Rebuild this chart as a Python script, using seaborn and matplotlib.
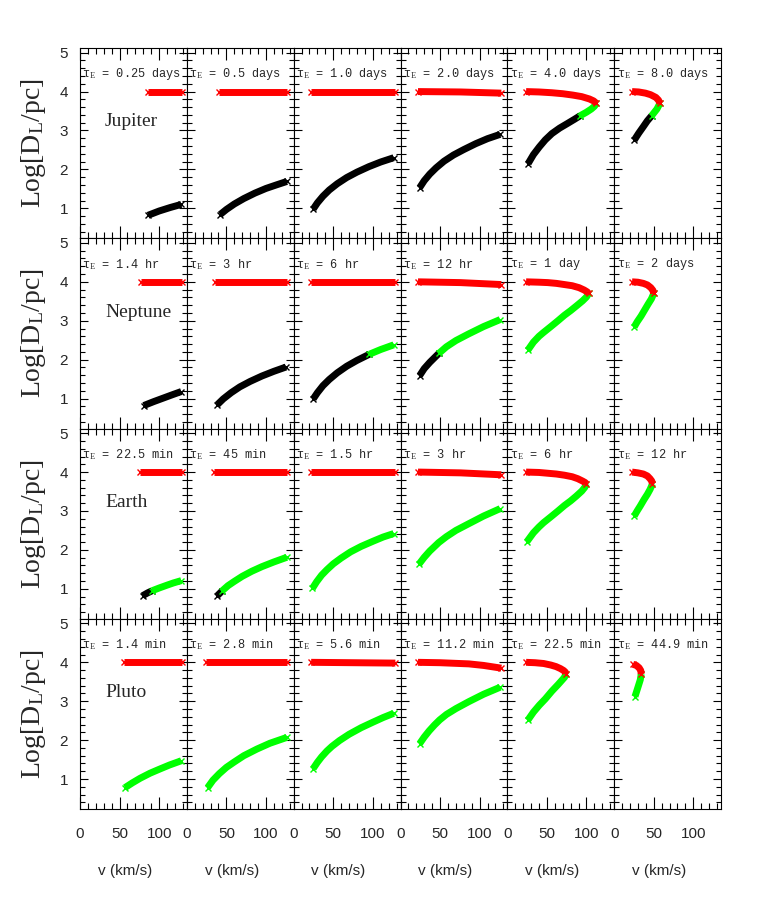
import matplotlib
matplotlib.use("Agg")
import matplotlib.pyplot as plt
import seaborn as sns
import pandas as pd
from matplotlib.ticker import MultipleLocator, FixedLocator

# ---------------- data ----------------
PLANETS = ["Jupiter", "Neptune", "Earth", "Pluto"]

TAU_JUP = ["0.25 days", "0.5 days", "1.0 days", "2.0 days", "4.0 days", "8.0 days"]
TAU_NEP = ["1.4 hr", "3 hr", "6 hr", "12 hr", "1 day", "2 days"]
TAU_EAR = ["22.5 min", "45 min", "1.5 hr", "3 hr", "6 hr", "12 hr"]
TAU_PLU = ["1.4 min", "2.8 min", "5.6 min", "11.2 min", "22.5 min", "44.9 min"]

X_TICKS = [0, 50, 100]
Y_TICKS = [1, 2, 3, 4, 5]

# ---- Jupiter row ----
JUP_RED_V = [[86, 129.5], [41, 126.5], [22, 128.5], [22.1, 75.8, 127.4],
             [23.7, 40, 56.3, 70, 82.7, 94, 103.7, 109, 112.5],
             [22.6, 31, 39.5, 46, 52.7, 56, 57.9]]
JUP_RED_D = [[4.0, 4.0], [4.0, 4.0], [4.0, 4.0], [4.0, 3.99, 3.96],
             [4.0, 3.99, 3.97, 3.945, 3.91, 3.87, 3.81, 3.76, 3.70],
             [4.0, 3.99, 3.96, 3.92, 3.85, 3.78, 3.70]]
JUP_BLK_V = [[86, 100, 114, 128],
             [42.1, 50, 60, 72, 86, 100, 113, 126.4],
             [24.7, 30, 37, 45, 55, 67, 80, 95, 110, 126.4],
             [24.2, 30, 37, 45, 55, 67, 80, 95, 110, 125.9],
             [26.3, 33, 40.5, 48, 56.3, 66, 76, 85, 92.1],
             [25.3, 31, 36.9, 42, 47.4]]
JUP_BLK_D = [[0.82, 0.93, 1.02, 1.10],
             [0.84, 0.97, 1.11, 1.25, 1.39, 1.51, 1.60, 1.69],
             [0.98, 1.14, 1.31, 1.47, 1.63, 1.79, 1.93, 2.07, 2.19, 2.30],
             [1.53, 1.71, 1.88, 2.04, 2.21, 2.37, 2.51, 2.66, 2.79, 2.90],
             [2.15, 2.38, 2.58, 2.76, 2.92, 3.06, 3.18, 3.29, 3.38],
             [2.75, 2.93, 3.10, 3.25, 3.38]]
JUP_GRN_V = [[], [], [], [], [92.1, 100, 106, 110, 112.5], [47.4, 54, 57.9]]
JUP_GRN_D = [[], [], [], [], [3.38, 3.47, 3.55, 3.62, 3.70], [3.38, 3.55, 3.70]]

# ---- Neptune row ----
NEP_RED_V = [[77.5, 129.4], [35.8, 126.4], [22.1, 128.5], [22.1, 75.8, 127.4],
             [23.7, 40, 51.1, 62, 72.1, 82, 90.6, 97, 101, 102.7],
             [22.6, 30, 36.9, 42, 46.3, 49, 50.0]]
NEP_RED_D = [[4.0, 4.0], [4.0, 4.0], [4.0, 4.0], [4.0, 3.98, 3.93],
             [4.0, 3.99, 3.98, 3.96, 3.93, 3.90, 3.85, 3.79, 3.74, 3.70],
             [4.0, 3.99, 3.96, 3.92, 3.85, 3.78, 3.70]]
NEP_BLK_V = [[80.6, 93, 105, 117, 128],
             [38.4, 46, 56, 67, 80, 95, 110, 125.3],
             [24.7, 30, 37, 45, 55, 67, 80, 95.8],
             [24.2, 30, 37, 48.4], [], []]
NEP_BLK_D = [[0.82, 0.92, 1.01, 1.10, 1.18],
             [0.84, 0.99, 1.15, 1.30, 1.44, 1.58, 1.70, 1.81],
             [0.99, 1.15, 1.33, 1.49, 1.66, 1.83, 1.98, 2.14],
             [1.59, 1.77, 1.93, 2.16], [], []]
NEP_GRN_V = [[], [],
             [95.8, 110, 126.4],
             [48.4, 58, 70, 86, 105, 125.9],
             [25.8, 33, 40, 45.8, 55, 64, 72.1, 80, 87.9, 95, 100, 102.7],
             [25.3, 29, 34, 39.5, 43, 47, 50.0]]
NEP_GRN_D = [[], [],
             [2.14, 2.26, 2.38],
             [2.16, 2.33, 2.49, 2.66, 2.85, 3.03],
             [2.24, 2.45, 2.60, 2.70, 2.85, 3.00, 3.14, 3.26, 3.39, 3.51, 3.61, 3.70],
             [2.84, 2.97, 3.12, 3.31, 3.43, 3.56, 3.70]]

# ---- Earth row ----
EAR_RED_V = [[75.3, 129.4], [34.8, 126.4], [22.1, 128.5], [22.1, 75.8, 127.4],
             [23.7, 40, 51.1, 62, 72.1, 82, 89, 95, 98.5, 99.5],
             [22.6, 30, 36.9, 42, 45.3, 47.5, 48.4]]
EAR_RED_D = [[4.0, 4.0], [4.0, 4.0], [4.0, 4.0], [4.0, 3.98, 3.93],
             [4.0, 3.99, 3.97, 3.95, 3.92, 3.88, 3.83, 3.77, 3.73, 3.70],
             [4.0, 3.98, 3.95, 3.90, 3.83, 3.77, 3.70]]
EAR_BLK_V = [[79, 85, 91.1], [38.4, 44.8], [], [], [], []]
EAR_BLK_D = [[0.82, 0.89, 0.95], [0.82, 0.95], [], [], [], []]
EAR_GRN_V = [[91.1, 100, 109.5, 118, 128],
             [44.8, 52, 60, 70, 82, 95, 110, 126.4],
             [23.7, 29, 35.3, 42, 50, 60, 72, 85.3, 100, 113, 126.4],
             [23.2, 30, 37, 48.4, 58, 70, 86, 105, 125.9],
             [24.7, 33, 40, 45.8, 55, 64, 72.1, 80, 87, 94, 98, 99.5],
             [25.3, 29, 33, 37.9, 42, 45.5, 48.4]]
EAR_GRN_D = [[0.95, 1.02, 1.09, 1.15, 1.21],
             [0.95, 1.08, 1.19, 1.32, 1.45, 1.57, 1.69, 1.81],
             [1.01, 1.18, 1.35, 1.49, 1.64, 1.79, 1.95, 2.09, 2.22, 2.33, 2.42],
             [1.63, 1.81, 1.97, 2.19, 2.34, 2.50, 2.67, 2.87, 3.06],
             [2.21, 2.44, 2.59, 2.70, 2.85, 3.00, 3.14, 3.26, 3.38, 3.51, 3.61, 3.70],
             [2.87, 3.00, 3.13, 3.30, 3.43, 3.56, 3.70]]

# ---- Pluto row ----
PLU_RED_V = [[55.8, 129.4], [24.2, 126.4], [22.1, 128.5],
             [22.1, 50, 86.4, 105, 127.4],
             [23.7, 35, 45.8, 55, 61.6, 67, 71.1, 73.2, 73.7],
             [23.7, 28, 31.5, 33.6, 34.2]]
PLU_RED_D = [[4.0, 4.0], [4.0, 4.0], [4.0, 3.98],
             [4.0, 3.99, 3.96, 3.92, 3.85],
             [4.0, 3.99, 3.97, 3.93, 3.89, 3.84, 3.79, 3.75, 3.70],
             [3.95, 3.92, 3.86, 3.79, 3.70]]
PLU_BLK_V = [[], [], [], [], [], []]
PLU_BLK_D = [[], [], [], [], [], []]
PLU_GRN_V = [[56.9, 66, 76, 88.5, 100, 113, 128],
             [26.3, 33, 41.1, 50, 60, 72, 88.5, 105, 126.4],
             [24.7, 30, 35.3, 42, 48.4, 58, 70, 85.3, 100, 113, 126.4],
             [24.2, 30, 36.3, 43, 49.5, 58, 70, 86.4, 105, 125.9],
             [25.8, 33, 40.5, 48, 56.3, 64.2, 69, 72.5, 73.7],
             [26.3, 28.5, 31, 33, 34.2]]
PLU_GRN_D = [[0.78, 0.90, 1.02, 1.15, 1.25, 1.36, 1.47],
             [0.78, 0.97, 1.14, 1.30, 1.44, 1.60, 1.77, 1.92, 2.07],
             [1.27, 1.43, 1.57, 1.72, 1.84, 1.99, 2.15, 2.32, 2.46, 2.58, 2.69],
             [1.91, 2.08, 2.24, 2.39, 2.52, 2.66, 2.81, 2.99, 3.18, 3.36],
             [2.51, 2.72, 2.90, 3.06, 3.26, 3.43, 3.54, 3.62, 3.70],
             [3.12, 3.26, 3.42, 3.55, 3.70]]

ROWS = [
    (TAU_JUP, JUP_RED_V, JUP_RED_D, JUP_BLK_V, JUP_BLK_D, JUP_GRN_V, JUP_GRN_D),
    (TAU_NEP, NEP_RED_V, NEP_RED_D, NEP_BLK_V, NEP_BLK_D, NEP_GRN_V, NEP_GRN_D),
    (TAU_EAR, EAR_RED_V, EAR_RED_D, EAR_BLK_V, EAR_BLK_D, EAR_GRN_V, EAR_GRN_D),
    (TAU_PLU, PLU_RED_V, PLU_RED_D, PLU_BLK_V, PLU_BLK_D, PLU_GRN_V, PLU_GRN_D),
]

RED = "#ff0000"
GREEN = "#00ff00"
BLACK = "#000000"

# ---------------- style ----------------
sns.set_style("ticks")
plt.rcParams["font.family"] = ["Liberation Sans", "DejaVu Sans"]
plt.rcParams["mathtext.fontset"] = "custom"
plt.rcParams["mathtext.rm"] = "Liberation Serif"
plt.rcParams["mathtext.it"] = "Liberation Serif:italic"
plt.rcParams["axes.linewidth"] = 0.8

fig, axes = plt.subplots(4, 6, figsize=(7.61, 9.0), dpi=100)
fig.subplots_adjust(left=80 / 761, right=721 / 761, top=1 - 48 / 900,
                    bottom=1 - 809 / 900, wspace=0, hspace=0)


def band(ax, v, d, color):
    if len(v) == 0:
        return
    df = pd.DataFrame({"v": v, "logD": d})
    sns.lineplot(data=df, x="v", y="logD", sort=False, estimator=None,
                 color=color, lw=5.0, ax=ax, legend=False,
                 solid_capstyle="butt", solid_joinstyle="round")
    ends = df.iloc[[0, -1]]
    ax.plot(ends["v"], ends["logD"], ls="none", marker="x", ms=5,
            mew=1.0, color=color)


for r, (taus, rv, rd, bv, bd, gv, gd) in enumerate(ROWS):
    for c in range(6):
        ax = axes[r, c]
        band(ax, bv[c], bd[c], BLACK)
        band(ax, gv[c], gd[c], GREEN)
        band(ax, rv[c], rd[c], RED)

        ax.set_xlim(0, 135)
        ax.set_ylim(0.23, 5.12)
        ax.xaxis.set_major_locator(FixedLocator(X_TICKS))
        ax.xaxis.set_minor_locator(MultipleLocator(10))
        ax.yaxis.set_major_locator(FixedLocator(Y_TICKS))
        ax.yaxis.set_minor_locator(MultipleLocator(0.2))
        ax.tick_params(which="both", direction="in", top=True, right=True,
                       width=0.8, color="black")
        ax.tick_params(axis="x", which="major", length=8.5, pad=13,
                       labelsize=11)
        ax.tick_params(axis="x", which="minor", length=4.3)
        ax.tick_params(axis="y", which="major", length=5.5, pad=8.5,
                       labelsize=11)
        ax.tick_params(axis="y", which="minor", length=3.6)
        for s in ax.spines.values():
            s.set_color("black")
            s.set_linewidth(0.8)

        ax.text(3, 4.45, r"τ$_{\rm E}$ = " + taus[c], fontsize=8.6,
                family=["Liberation Mono", "DejaVu Sans Mono"],
                ha="left", va="center")
        if c == 0:
            ax.text(31.6, 3.22, PLANETS[r], fontsize=14,
                    family="Liberation Serif", ha="left", va="center")
            ax.set_ylabel(r"Log[D$_{\rm L}$/pc]", fontsize=20,
                          family="Liberation Serif")
            ax.yaxis.set_label_coords(-0.30, 0.5)
        else:
            ax.set_ylabel("")
            ax.tick_params(axis="y", labelleft=False)
        if r == 3:
            ax.set_xlabel("v (km/s)", fontsize=11)
            ax.xaxis.set_label_coords(0.42, -0.29)
        else:
            ax.set_xlabel("")
            ax.tick_params(axis="x", labelbottom=False)

fig.savefig("out.png", dpi=100)
